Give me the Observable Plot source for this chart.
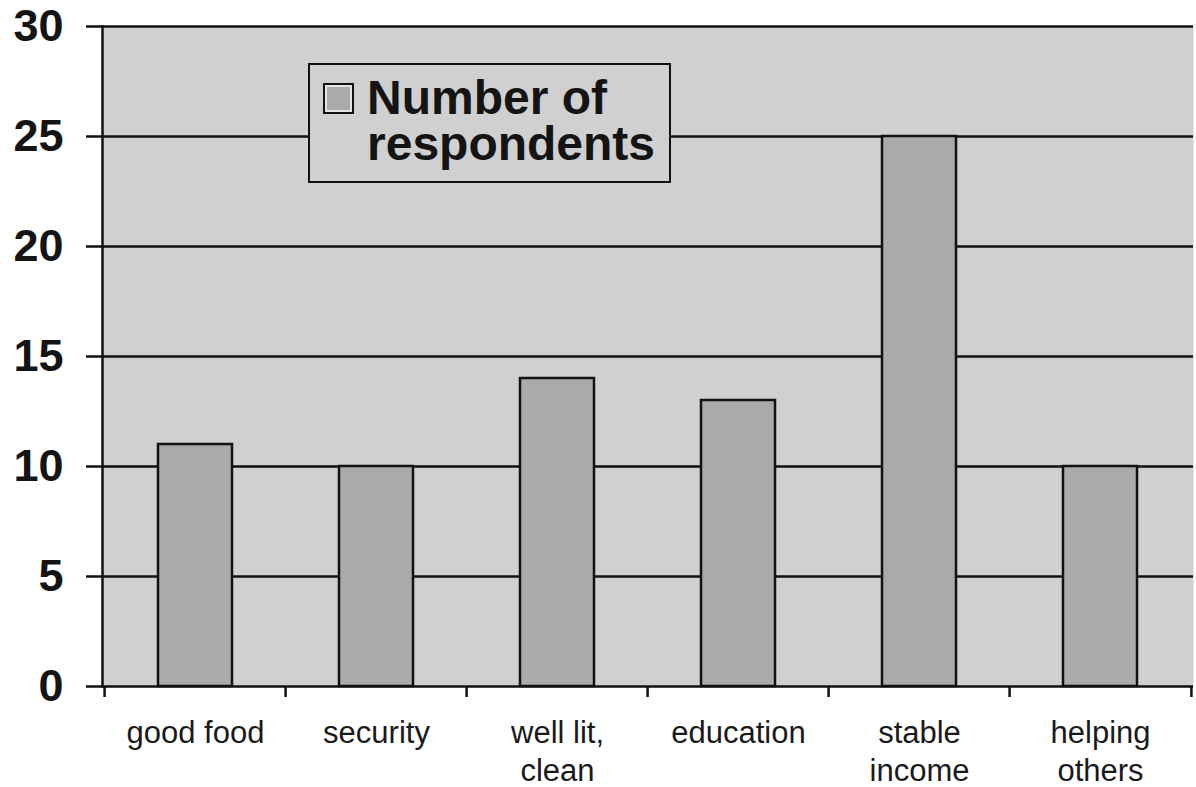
<!DOCTYPE html>
<html>
<head>
<meta charset="utf-8">
<script src="https://cdn.jsdelivr.net/npm/d3@7"></script>
<script src="https://cdn.jsdelivr.net/npm/@observablehq/plot@0.6"></script>
<style>
  html, body { margin: 0; padding: 0; background: #ffffff; overflow: hidden; }
  #wrap { position: relative; width: 1196px; height: 787px; font-family: "Liberation Sans", Arial, Helvetica, sans-serif; }
  #legend {
    position: absolute; left: 308px; top: 63px; width: 359px; height: 116px;
    background: #d0d0d0; border: 2.5px solid #111;
  }
  #legend .swatch {
    position: absolute; left: 13px; top: 18px; width: 27px; height: 27px;
    background: #aaaaaa; border: 2px solid #111; box-shadow: inset 0 0 0 2px #e4e4e4;
  }
  #legend .label {
    position: absolute; left: 57px; top: 10px; font-weight: bold; font-size: 48px;
    line-height: 46px; color: #141414; white-space: pre;
  }
</style>
</head>
<body>
<div id="wrap"></div>
<script>
// Responses per category
const categories = ["good food", "security", "well lit,\nclean", "education", "stable\nincome", "helping\nothers"];
const respondents = [11, 10, 14, 13, 25, 10];
const yTicks = [0, 5, 10, 15, 20, 25, 30];
const seriesName = "Number of\nrespondents";

const rows = categories.map((c, i) => ({category: c, value: respondents[i]}));

const W = 1196, H = 787;
const mL = 102, mR = 3, mT = 26, mB = 101;
const step = (W - mL - mR) / categories.length;

const chart = Plot.plot({
  width: W,
  height: H,
  marginTop: mT,
  marginBottom: mB,
  marginLeft: mL,
  marginRight: mR,
  style: {fontFamily: "'Liberation Sans', Arial, Helvetica, sans-serif", color: "#141414", background: "transparent"},
  x: {domain: categories, paddingInner: 0.59, paddingOuter: 0.295, label: null},
  y: {domain: [0, 30], label: null},
  marks: [
    Plot.frame({fill: "#d0d0d0", stroke: null}),
    Plot.ruleY(yTicks.filter(t => t > 0), {stroke: "#111", strokeWidth: 2.5}),
    Plot.barY(rows, {x: "category", y: "value", fill: "#aaaaaa", stroke: "#111", strokeWidth: 2.5}),
    Plot.ruleY([0], {stroke: "#111", strokeWidth: 2.5}),
    Plot.frame({anchor: "left", stroke: "#111", strokeWidth: 2.5}),
    // category boundary ticks below the baseline
    Plot.ruleX(categories, {x: d => d, dx: -step / 2, y1: 0, y2: -0.5, stroke: "#111", strokeWidth: 2.5}),
    Plot.ruleX(categories.slice(-1), {x: d => d, dx: step / 2, y1: 0, y2: -0.5, stroke: "#111", strokeWidth: 2.5}),
    Plot.axisY({ticks: yTicks, tickSize: 16, tickPadding: 23, fontSize: 45, fontWeight: "bold", strokeWidth: 2.5, stroke: "#111", fill: "#141414"}),
    Plot.axisX({tickSize: 0, tickPadding: 30, fontSize: 31, lineHeight: 1.22, fill: "#1a1a1a"})
  ]
});

const wrap = document.getElementById("wrap");
wrap.appendChild(chart);

const legend = document.createElement("div");
legend.id = "legend";
legend.innerHTML = '<div class="swatch"></div><div class="label"></div>';
legend.querySelector(".label").textContent = seriesName;
wrap.appendChild(legend);
</script>
</body>
</html>
